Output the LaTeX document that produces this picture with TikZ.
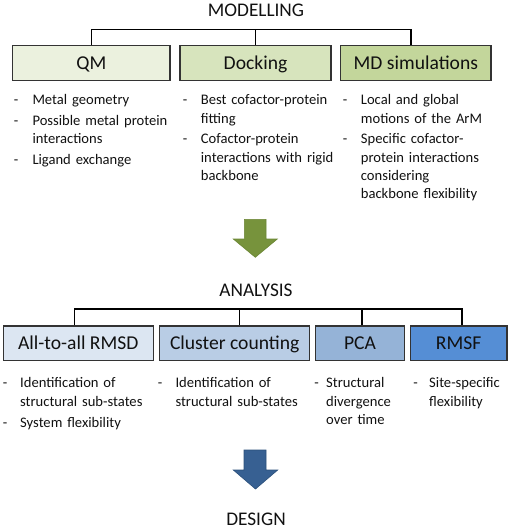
\documentclass[tikz,border=0pt]{standalone}
\usepackage{fontspec}
\setmainfont{Carlito}
\definecolor{gA}{HTML}{EBF1DE}
\definecolor{gB}{HTML}{D7E4BD}
\definecolor{gC}{HTML}{C3D69B}
\definecolor{bA}{HTML}{DCE6F2}
\definecolor{bB}{HTML}{B9CDE5}
\definecolor{bC}{HTML}{95B3D7}
\definecolor{bD}{HTML}{558ED5}
\definecolor{garrow}{HTML}{77933C}
\definecolor{garrowd}{HTML}{6A8534}
\definecolor{barrow}{HTML}{376092}
\definecolor{barrowd}{HTML}{2B4F7A}
\definecolor{txt}{HTML}{111111}
\definecolor{edge}{HTML}{333333}
\begin{document}
\begin{tikzpicture}[x=1pt,y=-1pt,
  heading/.style={anchor=base,inner sep=0pt,font=\fontsize{19.3}{22}\selectfont,text=txt},
  boxnode/.style={draw=edge,line width=1.3pt,minimum height=35pt,inner sep=0pt,
    text height=12.4pt,text depth=0pt,font=\fontsize{19.6}{22}\selectfont,text=txt},
  dashnode/.style={anchor=base,inner sep=0pt,font=\fontsize{14.6}{18.3}\selectfont,text=txt},
  itemnode/.style={anchor=base west,inner sep=0pt,align=left,text width=150pt,
    font=\fontsize{14.6}{18.3}\selectfont,text=txt},
  bracket/.style={draw=black,line width=1.2pt}]
\useasboundingbox (0,0) rectangle (510,529);

% ---------- MODELLING ----------
\node[heading] (hmod) at (256,16.5) {MODELLING};
\coordinate (brM) at (256,29.5);
\node[boxnode,fill=gA,minimum width=157.3pt] (qm) at (91.35,63.2) {QM};
\node[boxnode,fill=gB,minimum width=151pt] (dock) at (255.5,63.2) {Docking};
\node[boxnode,fill=gC,minimum width=150.3pt] (md) at (415.85,63.2) {MD simulations};
\draw[bracket] (qm.north) |- ([xshift=-4.85pt]md.north |- brM) -- ([xshift=-4.85pt]md.north);
\draw[bracket] (dock.north) -- (dock.north |- brM);

% QM items
\node[dashnode] (qd1) at (16,105) {-};
\node[itemnode] (qi1) at (32.3,105) {Metal geometry};
\node[dashnode] (qd2) at (16,125.5) {-};
\node[itemnode] (qi2) at (32.3,125.5) {Possible metal protein\\interactions};
\node[dashnode] (qd3) at (16,164.5) {-};
\node[itemnode] (qi3) at (32.3,164.5) {Ligand exchange};
% Docking items
\node[dashnode] (dd1) at (185,105) {-};
\node[itemnode] (di1) at (200.7,105) {Best cofactor-protein\\fitting};
\node[dashnode] (dd2) at (185,144) {-};
\node[itemnode] (di2) at (200.7,144) {Cofactor-protein\\interactions with rigid\\backbone};
% MD items
\node[dashnode] (md1) at (345,105) {-};
\node[itemnode] (mi1) at (360.7,105) {Local and global\\motions of the ArM};
\node[dashnode] (md2) at (345,144) {-};
\node[itemnode] (mi2) at (360.7,144) {Specific cofactor-\\protein interactions\\considering\\backbone flexibility};

% green arrow
\fill[garrow,draw=garrowd,line width=0.6pt]
  (244.3,219.3) -- (266,219.3) -- (266,239) -- (277.3,239) -- (255.3,257.3)
  -- (233.3,239) -- (244.3,239) -- cycle;

% ---------- ANALYSIS ----------
\node[heading] (hana) at (256,296.7) {ANALYSIS};
\coordinate (brA) at (256,309);
\node[boxnode,fill=bA,minimum width=150pt,minimum height=34.7pt] (rmsd) at (78.3,343.35) {All-to-all RMSD};
\node[boxnode,fill=bB,minimum width=150pt,minimum height=34.7pt] (clus) at (234.7,343.35) {Cluster counting};
\node[boxnode,fill=bC,minimum width=88.6pt,minimum height=34.7pt] (pca) at (360,343.35) {PCA};
\node[boxnode,fill=bD,minimum width=96.7pt,minimum height=34.7pt] (rmsf) at (458.65,343.35) {RMSF};
\draw[bracket] ([xshift=-3.6pt]rmsd.north) |- ([xshift=3.35pt]rmsf.north |- brA) -- ([xshift=3.35pt]rmsf.north);
\draw[bracket] ([xshift=4.6pt]clus.north) -- ([xshift=4.6pt]clus.north |- brA);
\draw[bracket] ([xshift=2pt]pca.north) -- ([xshift=2pt]pca.north |- brA);

% analysis items
\node[dashnode] (ad1) at (5,387.7) {-};
\node[itemnode] (ai1) at (20,387.7) {Identification of\\structural sub-states};
\node[dashnode] (ad2) at (5,427.7) {-};
\node[itemnode] (ai2) at (20,427.7) {System flexibility};
\node[dashnode] (cd1) at (160,387.7) {-};
\node[itemnode] (ci1) at (175.3,387.7) {Identification of\\structural sub-states};
\node[dashnode] (pd1) at (316.7,387.7) {-};
\node[itemnode] (pi1) at (326,387.7) {Structural\\divergence\\over time};
\node[dashnode] (rd1) at (415.7,387.7) {-};
\node[itemnode] (ri1) at (429,387.7) {Site-specific\\flexibility};

% blue arrow
\fill[barrow,draw=barrowd,line width=0.6pt]
  (244,450) -- (266,450) -- (266,470) -- (277.7,470) -- (255.5,489)
  -- (233.3,470) -- (244,470) -- cycle;

% ---------- DESIGN ----------
\node[heading] (hdes) at (256,525) {DESIGN};
\end{tikzpicture}
\end{document}
